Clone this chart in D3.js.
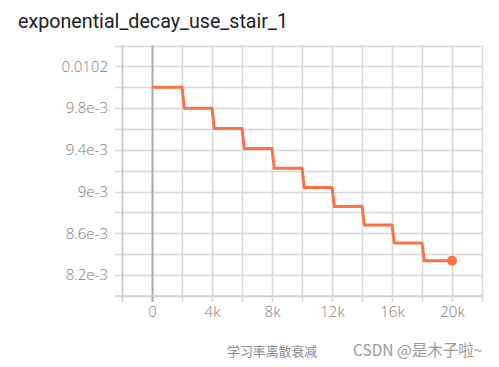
<!DOCTYPE html>
<html><head><meta charset="utf-8">
<script src="https://cdn.jsdelivr.net/npm/d3@7"></script>
<style>
html,body{margin:0;padding:0;background:#fff;}
svg{display:block;}
</style></head>
<body>
<svg id="c" width="499" height="367"></svg>
<script>
const title = "exponential_decay_use_stair_1";
const steps = [0, 2000, 2150, 4000, 4150, 6000, 6150, 8000, 8150, 10000, 10150, 12000, 12150, 14000, 14150, 16000, 16150, 18000, 18150, 20000];
const values = [0.01, 0.01, 0.0098, 0.0098, 0.009604, 0.009604, 0.009412, 0.009412, 0.009224, 0.009224, 0.00904, 0.00904, 0.008858, 0.008858, 0.008681, 0.008681, 0.008508, 0.008508, 0.008337, 0.008337];
const xTickLabels = [0, 4000, 8000, 12000, 16000, 20000];
const yTickLabels = [0.0082, 0.0086, 0.009, 0.0094, 0.0098, 0.0102];
const yLabelText = ["8.2e-3", "8.6e-3", "9e-3", "9.4e-3", "9.8e-3", "0.0102"];
const captionText = "学习率离散衰减";
const watermarkText = "CSDN @是木子啦~";

const svg = d3.select("#c");
const x = d3.scaleLinear().domain([-2000, 22000]).range([122, 482]);
const y = d3.scaleLinear().domain([0.008, 0.0104]).range([296, 45.5]);

const xGrid = d3.range(-2000, 22001, 2000);
const yGrid = d3.range(0, 13).map(i => 0.008 + i * 0.0002);

// horizontal grid
svg.append("g").selectAll("line").data(yGrid).join("line")
  .attr("x1", 115).attr("x2", 482)
  .attr("y1", d => Math.round(y(d)) + 0.5).attr("y2", d => Math.round(y(d)) + 0.5)
  .attr("stroke", "#d8d8d8").attr("stroke-width", 1.5);
// vertical grid
svg.append("g").selectAll("line").data(xGrid).join("line")
  .attr("x1", d => Math.round(x(d)) + 0.5).attr("x2", d => Math.round(x(d)) + 0.5)
  .attr("y1", 45.5).attr("y2", 302)
  .attr("stroke", d => d === -2000 ? "#c4c4c4" : (d === 0 ? "#a8a8a8" : "#d8d8d8"))
  .attr("stroke-width", d => d === 0 ? 2 : 1.5);
// bottom axis line
svg.append("line").attr("x1", 115).attr("x2", 482).attr("y1", 296).attr("y2", 296)
  .attr("stroke", "#d0d0d0").attr("stroke-width", 1.5);

// axis labels
const xAxis = d3.axisBottom(x).tickValues(xTickLabels).tickSize(0).tickPadding(8)
  .tickFormat(d => d === 0 ? "0" : (d / 1000) + "k");
const gx = svg.append("g").attr("transform", "translate(0,298)").call(xAxis);
gx.select(".domain").remove();
gx.selectAll("text").attr("font-family", "'Open Sans', sans-serif").attr("font-size", 15)
  .attr("fill", "#808080").attr("font-weight", 300);

const yAxis = d3.axisLeft(y).tickValues(yTickLabels).tickSize(0).tickPadding(14)
  .tickFormat((d, i) => yLabelText[i]);
const gy = svg.append("g").attr("transform", "translate(122,0)").call(yAxis);
gy.select(".domain").remove();
gy.selectAll("text").attr("font-family", "'Open Sans', sans-serif").attr("font-size", 15)
  .attr("fill", "#808080").attr("font-weight", 300);

// line
const pts = steps.map((s, i) => [s, values[i]]);
const line = d3.line().x(d => x(d[0])).y(d => y(d[1]));
svg.append("path").datum(pts).attr("d", line)
  .attr("fill", "none").attr("stroke", "#ff7043").attr("stroke-width", 3)
  .attr("stroke-linejoin", "round");
const last = pts[pts.length - 1];
svg.append("circle").attr("cx", x(last[0])).attr("cy", y(last[1])).attr("r", 5)
  .attr("fill", "#ff7043");

// title
svg.append("text").attr("x", 18).attr("y", 28).text(title)
  .attr("font-family", "Roboto, sans-serif").attr("font-size", 19.7).attr("fill", "#212121");

// caption and watermark
svg.append("text").attr("x", 227).attr("y", 356).text(captionText)
  .attr("font-family", "'Noto Sans CJK SC', sans-serif").attr("font-size", 12.9).attr("fill", "#8a8a8a");
svg.append("text").attr("x", 353).attr("y", 356).text(watermarkText)
  .attr("font-family", "'Noto Sans CJK SC', sans-serif").attr("font-size", 15.5).attr("fill", "#9a9a9a");
</script>
</body></html>
